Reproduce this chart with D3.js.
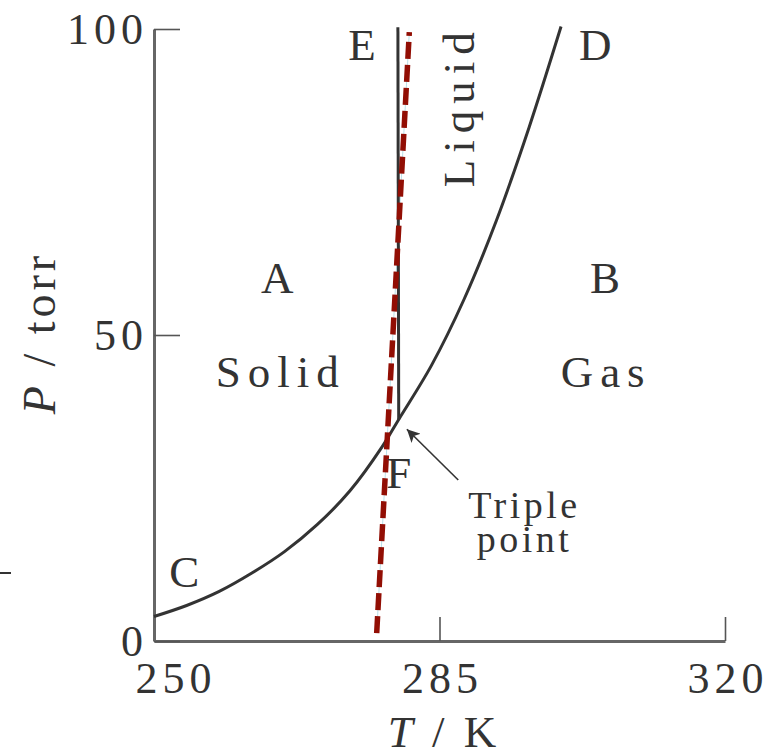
<!DOCTYPE html>
<html><head><meta charset="utf-8">
<script src="https://cdn.jsdelivr.net/npm/d3@7"></script>
<style>
body{margin:0;background:#fff}
svg{display:block;background:#fff}
text{font-family:"Liberation Serif","Times New Roman",serif;fill:#333}
</style>
</head><body>
<svg id="c" width="773" height="753"></svg>
<script>
// ---- data ----
const xTicks = [250, 285, 320];
const yTicks = [0, 50, 100];
// sublimation / vaporization curve C -> F -> D
const curveT = [250, 254, 258, 262, 266, 270, 274, 278, 280, 284, 288, 292, 296, 299.9];
const curveP = [4.0, 5.8, 8.1, 11.1, 14.6, 19.0, 24.5, 31.8, 36.2, 45.0, 55.8, 68.8, 84.0, 100.4];
// fusion line F -> E
const fusionT = [280.0, 279.9];
const fusionP = [36.2, 100.3];
// dashed red line
const dashT = [277.3, 281.3];
const dashP = [1.3, 99.5];
// labels
const letterLabels = ["A", "B", "C", "D", "E", "F"];
const letterT = [265.1, 305.3, 253.7, 304.1, 275.5, 280.0];
const letterP = [56.9, 56.9, 8.8, 94.9, 94.9, 25.0];
const phaseLabels = ["Solid", "Gas"];
const phaseT = [265.1, 305.0];
const phaseP = [41.5, 41.5];
const liquidLabel = "Liquid";
const liquidT = 289.2, liquidP = 86.8;
const noteLines = ["Triple", "point"];
const noteT = 295.2;
const noteP = [20.1, 14.6];
const arrowFrom = [287.3, 26.3], arrowTo = [281.0, 34.6];

// ---- chart ----
const svg = d3.select("#c");
const x = d3.scaleLinear().domain([250, 320]).range([154, 725]);
const y = d3.scaleLinear().domain([0, 100]).range([641, 29]);

// stray mark at left edge
svg.append("line").attr("x1", 0).attr("x2", 11).attr("y1", 573).attr("y2", 573)
  .attr("stroke", "#333").attr("stroke-width", 2);

// axes
const xAxis = d3.axisBottom(x).tickValues(xTicks).tickSizeInner(-24).tickSizeOuter(0).tickPadding(0);
const gx = svg.append("g").attr("transform", `translate(0,${y(0)})`).call(xAxis);
const yAxis = d3.axisLeft(y).tickValues(yTicks).tickSizeInner(-26).tickSizeOuter(0).tickPadding(0);
const gy = svg.append("g").attr("transform", `translate(${x(250)},0)`).call(yAxis);

[gx, gy].forEach(g => {
  g.select(".domain").attr("stroke", "#666").attr("stroke-width", 3);
  g.selectAll(".tick line").attr("stroke", "#555").attr("stroke-width", 1.6);
  g.selectAll(".tick text").attr("fill", "#333")
    .style("font-family", '"Liberation Serif",serif').style("font-size", "44px")
    .style("letter-spacing", "5px");
});
gx.selectAll(".tick text").attr("dy", null).attr("y", 52)
  .attr("x", d => (d === 250 ? 19 : 0) + 2.5);
gy.selectAll(".tick text").attr("x", -6).attr("dy", null)
  .attr("dominant-baseline", "central");

// light blue guide under the dashes
const line = d3.line().x(d => x(d[0])).y(d => y(d[1]));
const dashPts = dashT.map((t, i) => [t, dashP[i]]);
svg.append("path").attr("d", line(dashPts)).attr("fill", "none")
  .attr("stroke", "#b9e0e8").attr("stroke-width", 1);

// curve
const curvePts = curveT.map((t, i) => [t, curveP[i]]);
const smooth = d3.line().x(d => x(d[0])).y(d => y(d[1])).curve(d3.curveCatmullRom.alpha(0.5));
svg.append("path").attr("d", smooth(curvePts))
  .attr("fill", "none").attr("stroke", "#333").attr("stroke-width", 3);

// fusion line
svg.append("path").attr("d", line(fusionT.map((t, i) => [t, fusionP[i]])))
  .attr("fill", "none").attr("stroke", "#333").attr("stroke-width", 3);

// dashed red
svg.append("path").attr("d", line(dashPts)).attr("fill", "none")
  .attr("stroke", "#920e04").attr("stroke-width", 5.5).attr("stroke-dasharray", "17,6");

// labels
const lab = (txt, px, py, size, ls) => svg.append("text")
  .attr("x", px + ls / 2).attr("y", py).attr("text-anchor", "middle")
  .style("font-size", size + "px").style("letter-spacing", ls + "px").text(txt);

letterLabels.forEach((t, i) => lab(t, x(letterT[i]), y(letterP[i]), 45, 0));
phaseLabels.forEach((t, i) => lab(t, x(phaseT[i]), y(phaseP[i]), 45, 7));
noteLines.forEach((t, i) => lab(t, x(noteT), y(noteP[i]), 38, 3.5));

svg.append("text").attr("transform", `translate(${x(liquidT)},${y(liquidP) - 3.5}) rotate(-90)`)
  .attr("text-anchor", "middle").style("font-size", "45px").style("letter-spacing", "7px")
  .text(liquidLabel);

// arrow
svg.append("defs").append("marker").attr("id", "ah").attr("viewBox", "0 0 10 10")
  .attr("refX", 10).attr("refY", 5).attr("markerWidth", 18).attr("markerHeight", 13)
  .attr("markerUnits", "userSpaceOnUse").attr("orient", "auto")
  .append("path").attr("d", "M0,0 L10,5 L0,10 L2.5,5 Z").attr("fill", "#333");
svg.append("line").attr("x1", x(arrowFrom[0])).attr("y1", y(arrowFrom[1]))
  .attr("x2", x(arrowTo[0])).attr("y2", y(arrowTo[1]))
  .attr("stroke", "#333").attr("stroke-width", 1.6).attr("marker-end", "url(#ah)");

// axis titles
const tx = svg.append("text").attr("x", 442 + 2).attr("y", 747).attr("text-anchor", "middle")
  .style("font-size", "45px").style("letter-spacing", "4px");
tx.append("tspan").style("font-style", "italic").text("T");
tx.append("tspan").text(" / K");

const ty = svg.append("text").attr("transform", `translate(55,${y(50) - 2}) rotate(-90)`)
  .attr("text-anchor", "middle").style("font-size", "46px").style("letter-spacing", "4px");
ty.append("tspan").style("font-style", "italic").text("P");
ty.append("tspan").text(" / torr");
</script>
</body></html>
